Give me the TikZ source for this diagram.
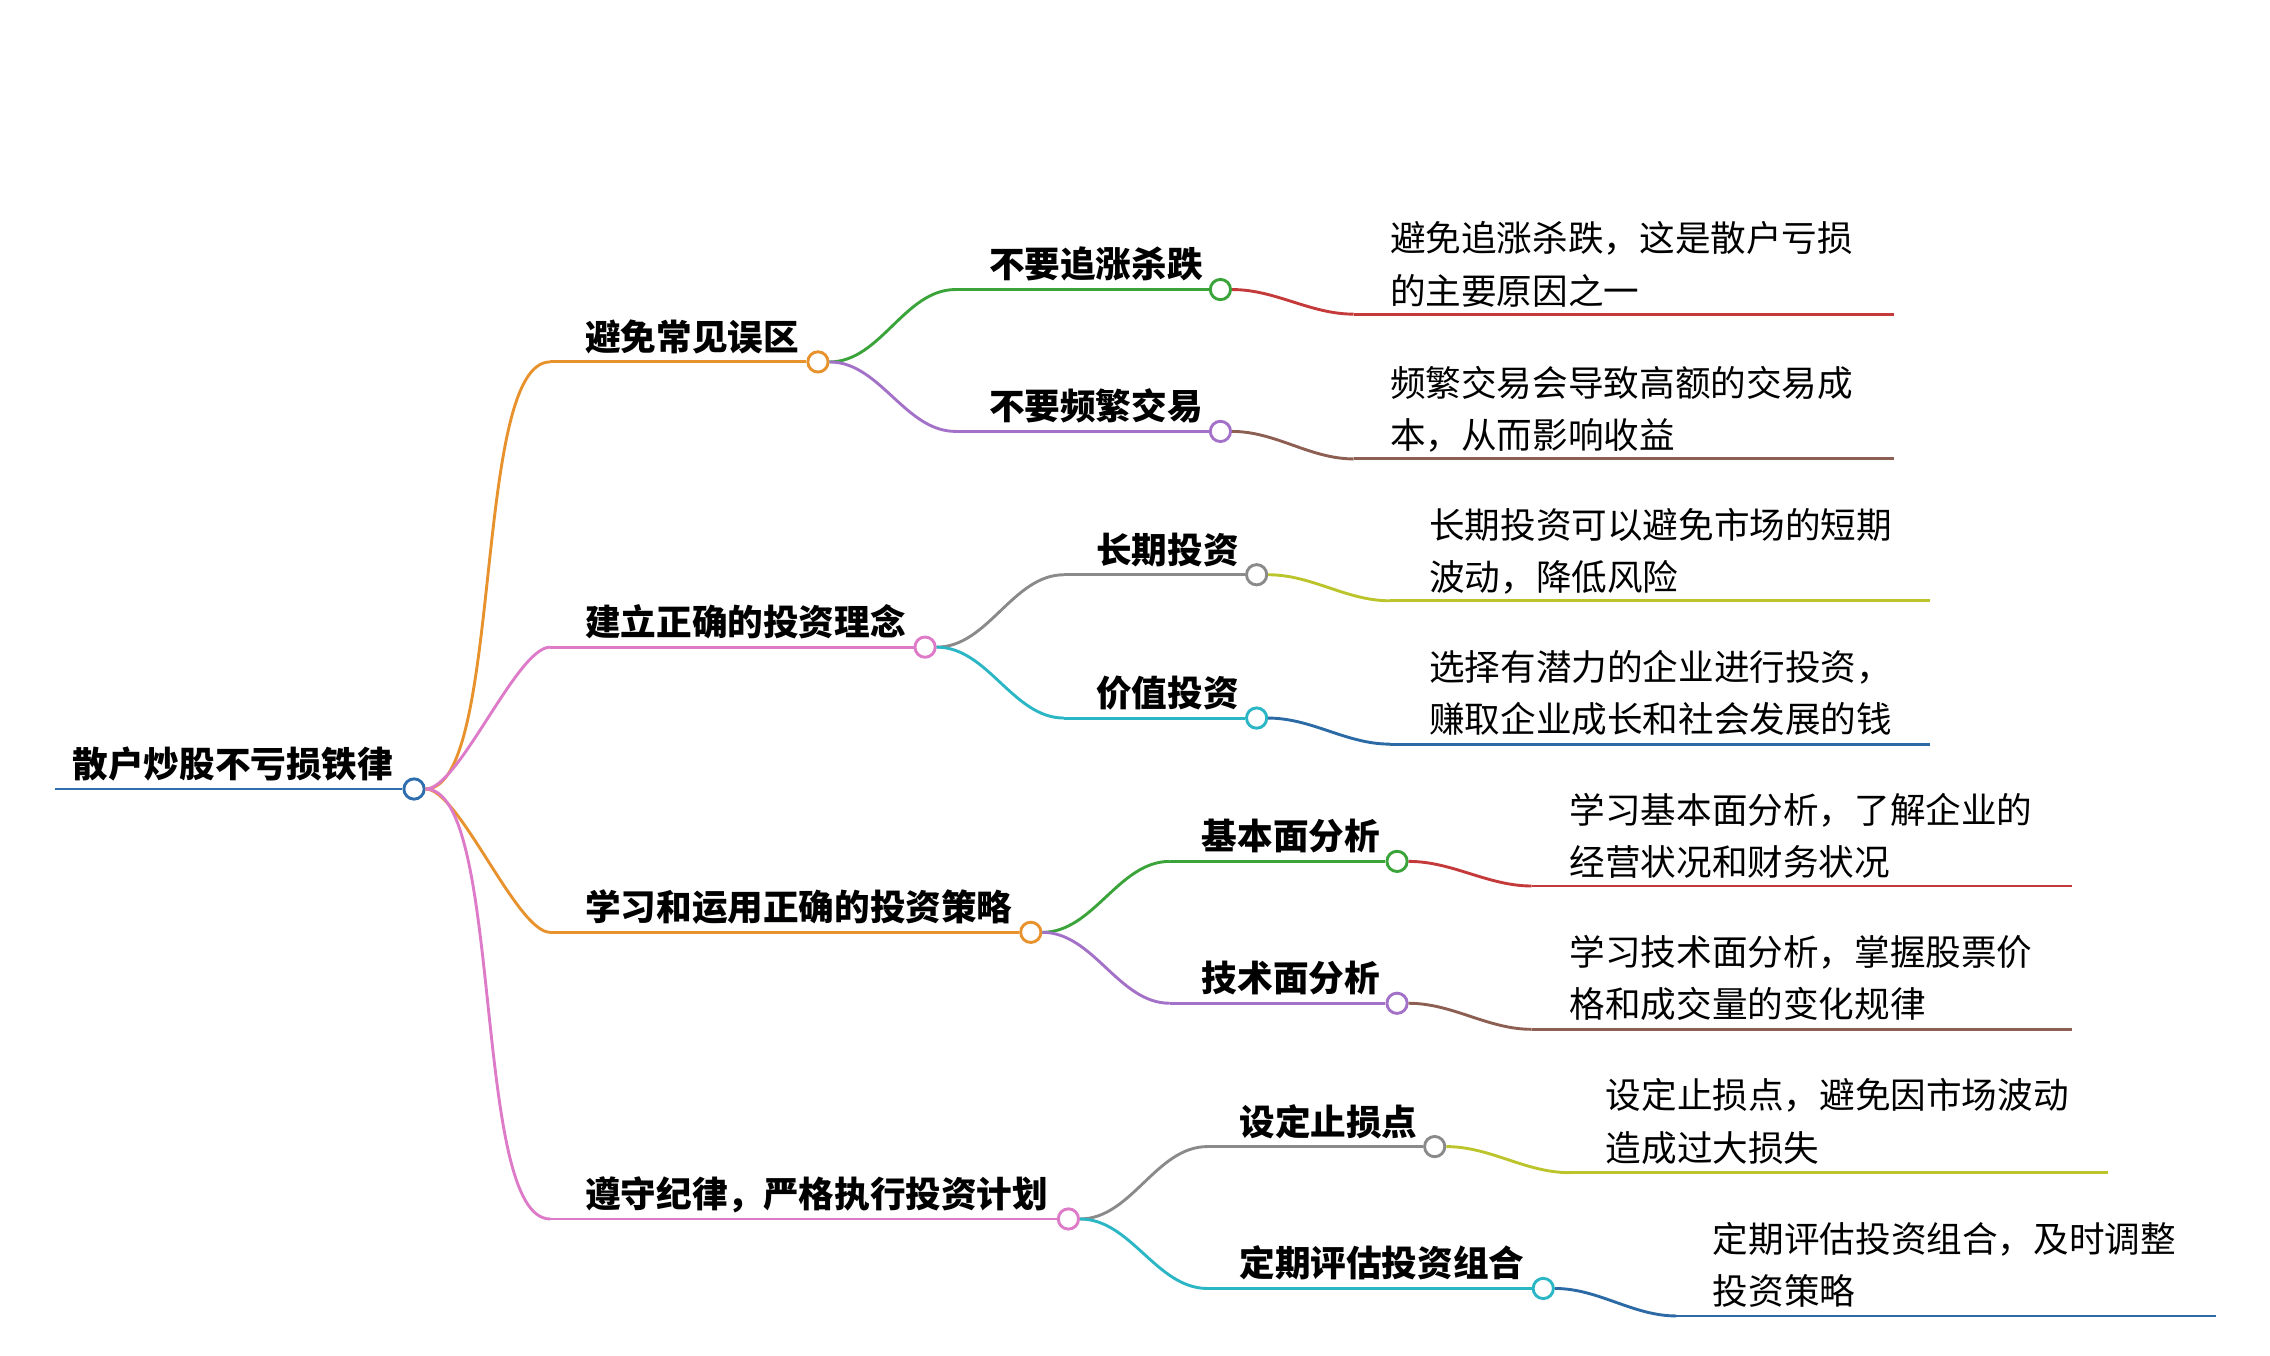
\documentclass[tikz,border=0pt]{standalone}
\usepackage{fontspec}
\setmainfont{Noto Sans CJK SC}
\definecolor{cRoot}{HTML}{2E6DAE}
\definecolor{cOr}{HTML}{E8922E}
\definecolor{cPk}{HTML}{DE7BC9}
\definecolor{cGr}{HTML}{3AA43A}
\definecolor{cPu}{HTML}{A372C8}
\definecolor{cGy}{HTML}{8A8A8A}
\definecolor{cCy}{HTML}{2BB6C6}
\definecolor{cRd}{HTML}{C43A3A}
\definecolor{cBr}{HTML}{8C5F52}
\definecolor{cYg}{HTML}{BCC42C}
\definecolor{cDb}{HTML}{2C6AA6}
\tikzset{
  dot/.style={circle,draw=#1,fill=white,line width=2pt,minimum size=14pt,inner sep=0pt},
  ln/.style={draw=#1,line width=2pt},
  lbl/.style={anchor=base west,inner sep=0pt,font=\fontsize{24.6}{28}\selectfont\bfseries},
  leaf/.style={anchor=base west,inner sep=0pt,align=left,font=\fontsize{24.6}{36}\selectfont},
}
\newcommand{\crv}[3]{\draw[ln=#1] (#2.east) to[out=0,in=180,looseness=0.9] (#3);}
\newcommand{\rcrv}[3]{\draw[ln=#1] (#2.east) to[out=0,in=180,looseness=0.45] (#3);}
\begin{document}
\begin{tikzpicture}[x=1pt,y=-1pt]
\useasboundingbox (0,0) rectangle (1568,936);
% root
\coordinate (rS) at (38,545);
\node[dot=cRoot] (r) at (286,545) {};
\draw[ln=cRoot] (rS) -- (r);
\node[lbl] (rT) at (50,537) {散户炒股不亏损铁律};
% level 1
\coordinate (aS) at (380,250); \node[dot=cOr] (a) at (565,250) {}; \draw[ln=cOr] (aS) -- (a);
\node[lbl] (aT) at (404,242) {避免常见误区};
\coordinate (bS) at (380,447); \node[dot=cPk] (b) at (639,447) {}; \draw[ln=cPk] (bS) -- (b);
\node[lbl] (bT) at (404,439) {建立正确的投资理念};
\coordinate (cS) at (380,644); \node[dot=cOr] (c) at (712,644) {}; \draw[ln=cOr] (cS) -- (c);
\node[lbl] (cT) at (404,636) {学习和运用正确的投资策略};
\coordinate (dS) at (380,842); \node[dot=cPk] (d) at (738,842) {}; \draw[ln=cPk] (dS) -- (d);
\node[lbl] (dT) at (404,834) {遵守纪律，严格执行投资计划};
\rcrv{cOr}{r}{aS} \rcrv{cPk}{r}{bS} \rcrv{cOr}{r}{cS} \rcrv{cPk}{r}{dS}
% level 2
\coordinate (a1S) at (660,200); \node[dot=cGr] (a1) at (843,200) {}; \draw[ln=cGr] (a1S) -- (a1);
\node[lbl] (a1T) at (683,192) {不要追涨杀跌};
\coordinate (a2S) at (660,298); \node[dot=cPu] (a2) at (843,298) {}; \draw[ln=cPu] (a2S) -- (a2);
\node[lbl] (a2T) at (683,290) {不要频繁交易};
\coordinate (b1S) at (735,397); \node[dot=cGy] (b1) at (868,397) {}; \draw[ln=cGy] (b1S) -- (b1);
\node[lbl] (b1T) at (757,389) {长期投资};
\coordinate (b2S) at (735,496); \node[dot=cCy] (b2) at (868,496) {}; \draw[ln=cCy] (b2S) -- (b2);
\node[lbl] (b2T) at (757,488) {价值投资};
\coordinate (c1S) at (808,595); \node[dot=cGr] (c1) at (965,595) {}; \draw[ln=cGr] (c1S) -- (c1);
\node[lbl] (c1T) at (830,587) {基本面分析};
\coordinate (c2S) at (808,693); \node[dot=cPu] (c2) at (965,693) {}; \draw[ln=cPu] (c2S) -- (c2);
\node[lbl] (c2T) at (830,685) {技术面分析};
\coordinate (d1S) at (834,792); \node[dot=cGy] (d1) at (991,792) {}; \draw[ln=cGy] (d1S) -- (d1);
\node[lbl] (d1T) at (856,784) {设定止损点};
\coordinate (d2S) at (834,890); \node[dot=cCy] (d2) at (1066,890) {}; \draw[ln=cCy] (d2S) -- (d2);
\node[lbl] (d2T) at (856,882) {定期评估投资组合};
\crv{cGr}{a}{a1S} \crv{cPu}{a}{a2S} \crv{cGy}{b}{b1S} \crv{cCy}{b}{b2S}
\crv{cGr}{c}{c1S} \crv{cPu}{c}{c2S} \crv{cGy}{d}{d1S} \crv{cCy}{d}{d2S}
% leaves
\coordinate (l1S) at (935,217); \coordinate (l1E) at (1308,217); \draw[ln=cRd] (l1S) -- (l1E);
\node[leaf] (l1) at (960,210) {避免追涨杀跌，这是散户亏损\\的主要原因之一};
\coordinate (l2S) at (935,317); \coordinate (l2E) at (1308,317); \draw[ln=cBr] (l2S) -- (l2E);
\node[leaf] (l2) at (960,310) {频繁交易会导致高额的交易成\\本，从而影响收益};
\coordinate (l3S) at (960,415); \coordinate (l3E) at (1333,415); \draw[ln=cYg] (l3S) -- (l3E);
\node[leaf] (l3) at (987,408) {长期投资可以避免市场的短期\\波动，降低风险};
\coordinate (l4S) at (960,514); \coordinate (l4E) at (1333,514); \draw[ln=cDb] (l4S) -- (l4E);
\node[leaf] (l4) at (987,506) {选择有潜力的企业进行投资，\\赚取企业成长和社会发展的钱};
\coordinate (l5S) at (1058,612); \coordinate (l5E) at (1431,612); \draw[ln=cRd] (l5S) -- (l5E);
\node[leaf] (l5) at (1084,605) {学习基本面分析，了解企业的\\经营状况和财务状况};
\coordinate (l6S) at (1058,711); \coordinate (l6E) at (1431,711); \draw[ln=cBr] (l6S) -- (l6E);
\node[leaf] (l6) at (1084,703) {学习技术面分析，掌握股票价\\格和成交量的变化规律};
\coordinate (l7S) at (1084,810); \coordinate (l7E) at (1456,810); \draw[ln=cYg] (l7S) -- (l7E);
\node[leaf] (l7) at (1109,802) {设定止损点，避免因市场波动\\造成过大损失};
\coordinate (l8S) at (1158,909); \coordinate (l8E) at (1531,909); \draw[ln=cDb] (l8S) -- (l8E);
\node[leaf] (l8) at (1183,901) {定期评估投资组合，及时调整\\投资策略};
\crv{cRd}{a1}{l1S} \crv{cBr}{a2}{l2S} \crv{cYg}{b1}{l3S} \crv{cDb}{b2}{l4S}
\crv{cRd}{c1}{l5S} \crv{cBr}{c2}{l6S} \crv{cYg}{d1}{l7S} \crv{cDb}{d2}{l8S}
\end{tikzpicture}
\end{document}
